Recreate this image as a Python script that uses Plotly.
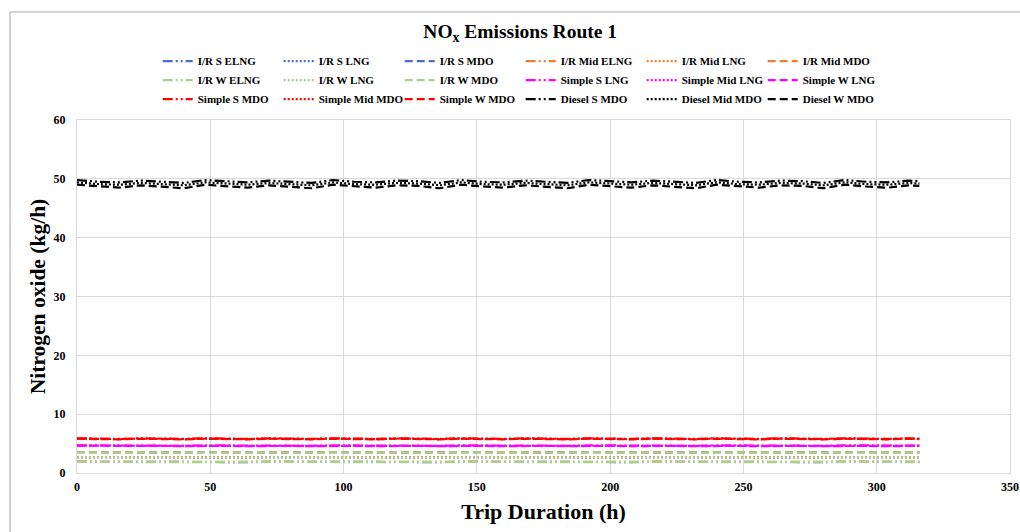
"""NOx emissions, Route 1: hourly nitrogen oxide for I/R, Simple and Diesel configurations."""
import plotly.graph_objects as go

# Trip duration (h)
HOURS = [0, 8, 16, 24, 32, 40, 48, 56, 64, 72, 80, 88, 96, 104, 112, 120, 128, 136, 144, 152,
         160, 168, 176, 184, 192, 200, 208, 216, 224, 232, 240, 248, 256, 264, 272, 280, 288,
         296, 304, 312, 316]

# Nitrogen oxide (kg/h)
IR_S_ELNG = [1.9, 1.88, 1.86, 1.9, 1.88, 1.86, 1.9, 1.88, 1.86, 1.9, 1.88, 1.86, 1.9, 1.88,
             1.86, 1.9, 1.88, 1.86, 1.9, 1.88, 1.86, 1.9, 1.88, 1.86, 1.9, 1.88, 1.86, 1.9,
             1.88, 1.86, 1.9, 1.88, 1.86, 1.9, 1.88, 1.86, 1.9, 1.88, 1.86, 1.9, 1.88]
IR_S_LNG = [2.7, 2.68, 2.66, 2.7, 2.68, 2.66, 2.7, 2.68, 2.66, 2.7, 2.68, 2.66, 2.7, 2.68,
            2.66, 2.7, 2.68, 2.66, 2.7, 2.68, 2.66, 2.7, 2.68, 2.66, 2.7, 2.68, 2.66, 2.7,
            2.68, 2.66, 2.7, 2.68, 2.66, 2.7, 2.68, 2.66, 2.7, 2.68, 2.66, 2.7, 2.68]
IR_S_MDO = [3.55, 3.52, 3.5, 3.55, 3.52, 3.5, 3.55, 3.52, 3.5, 3.55, 3.52, 3.5, 3.55, 3.52,
            3.5, 3.55, 3.52, 3.5, 3.55, 3.52, 3.5, 3.55, 3.52, 3.5, 3.55, 3.52, 3.5, 3.55,
            3.52, 3.5, 3.55, 3.52, 3.5, 3.55, 3.52, 3.5, 3.55, 3.52, 3.5, 3.55, 3.52]
IR_MID_ELNG = [1.92, 1.9, 1.88, 1.92, 1.9, 1.88, 1.92, 1.9, 1.88, 1.92, 1.9, 1.88, 1.92, 1.9,
               1.88, 1.92, 1.9, 1.88, 1.92, 1.9, 1.88, 1.92, 1.9, 1.88, 1.92, 1.9, 1.88, 1.92,
               1.9, 1.88, 1.92, 1.9, 1.88, 1.92, 1.9, 1.88, 1.92, 1.9, 1.88, 1.92, 1.9]
IR_MID_LNG = [2.68, 2.66, 2.64, 2.68, 2.66, 2.64, 2.68, 2.66, 2.64, 2.68, 2.66, 2.64, 2.68,
              2.66, 2.64, 2.68, 2.66, 2.64, 2.68, 2.66, 2.64, 2.68, 2.66, 2.64, 2.68, 2.66,
              2.64, 2.68, 2.66, 2.64, 2.68, 2.66, 2.64, 2.68, 2.66, 2.64, 2.68, 2.66, 2.64,
              2.68, 2.66]
IR_MID_MDO = [3.53, 3.5, 3.48, 3.53, 3.5, 3.48, 3.53, 3.5, 3.48, 3.53, 3.5, 3.48, 3.53, 3.5,
              3.48, 3.53, 3.5, 3.48, 3.53, 3.5, 3.48, 3.53, 3.5, 3.48, 3.53, 3.5, 3.48, 3.53,
              3.5, 3.48, 3.53, 3.5, 3.48, 3.53, 3.5, 3.48, 3.53, 3.5, 3.48, 3.53, 3.5]
IR_W_ELNG = [1.88, 1.86, 1.84, 1.88, 1.86, 1.84, 1.88, 1.86, 1.84, 1.88, 1.86, 1.84, 1.88,
             1.86, 1.84, 1.88, 1.86, 1.84, 1.88, 1.86, 1.84, 1.88, 1.86, 1.84, 1.88, 1.86,
             1.84, 1.88, 1.86, 1.84, 1.88, 1.86, 1.84, 1.88, 1.86, 1.84, 1.88, 1.86, 1.84,
             1.88, 1.86]
IR_W_LNG = [2.66, 2.64, 2.62, 2.66, 2.64, 2.62, 2.66, 2.64, 2.62, 2.66, 2.64, 2.62, 2.66,
            2.64, 2.62, 2.66, 2.64, 2.62, 2.66, 2.64, 2.62, 2.66, 2.64, 2.62, 2.66, 2.64,
            2.62, 2.66, 2.64, 2.62, 2.66, 2.64, 2.62, 2.66, 2.64, 2.62, 2.66, 2.64, 2.62,
            2.66, 2.64]
IR_W_MDO = [3.52, 3.5, 3.47, 3.52, 3.5, 3.47, 3.52, 3.5, 3.47, 3.52, 3.5, 3.47, 3.52, 3.5,
            3.47, 3.52, 3.5, 3.47, 3.52, 3.5, 3.47, 3.52, 3.5, 3.47, 3.52, 3.5, 3.47, 3.52,
            3.5, 3.47, 3.52, 3.5, 3.47, 3.52, 3.5, 3.47, 3.52, 3.5, 3.47, 3.52, 3.5]
SIMPLE_S_LNG = [4.7, 4.66, 4.62, 4.7, 4.66, 4.62, 4.7, 4.66, 4.62, 4.7, 4.66, 4.62, 4.7, 4.66,
                4.62, 4.7, 4.66, 4.62, 4.7, 4.66, 4.62, 4.7, 4.66, 4.62, 4.7, 4.66, 4.62, 4.7,
                4.66, 4.62, 4.7, 4.66, 4.62, 4.7, 4.66, 4.62, 4.7, 4.66, 4.62, 4.7, 4.66]
SIMPLE_MID_LNG = [4.66, 4.62, 4.6, 4.66, 4.62, 4.6, 4.66, 4.62, 4.6, 4.66, 4.62, 4.6, 4.66,
                  4.62, 4.6, 4.66, 4.62, 4.6, 4.66, 4.62, 4.6, 4.66, 4.62, 4.6, 4.66, 4.62,
                  4.6, 4.66, 4.62, 4.6, 4.66, 4.62, 4.6, 4.66, 4.62, 4.6, 4.66, 4.62, 4.6,
                  4.66, 4.62]
SIMPLE_W_LNG = [4.64, 4.6, 4.57, 4.64, 4.6, 4.57, 4.64, 4.6, 4.57, 4.64, 4.6, 4.57, 4.64, 4.6,
                4.57, 4.64, 4.6, 4.57, 4.64, 4.6, 4.57, 4.64, 4.6, 4.57, 4.64, 4.6, 4.57, 4.64,
                4.6, 4.57, 4.64, 4.6, 4.57, 4.64, 4.6, 4.57, 4.64, 4.6, 4.57, 4.64, 4.6]
SIMPLE_S_MDO = [5.9, 5.84, 5.8, 5.9, 5.84, 5.8, 5.9, 5.84, 5.8, 5.9, 5.84, 5.8, 5.9, 5.84,
                5.8, 5.9, 5.84, 5.8, 5.9, 5.84, 5.8, 5.9, 5.84, 5.8, 5.9, 5.84, 5.8, 5.9,
                5.84, 5.8, 5.9, 5.84, 5.8, 5.9, 5.84, 5.8, 5.9, 5.84, 5.8, 5.9, 5.84]
SIMPLE_MID_MDO = [5.86, 5.8, 5.76, 5.86, 5.8, 5.76, 5.86, 5.8, 5.76, 5.86, 5.8, 5.76, 5.86,
                  5.8, 5.76, 5.86, 5.8, 5.76, 5.86, 5.8, 5.76, 5.86, 5.8, 5.76, 5.86, 5.8,
                  5.76, 5.86, 5.8, 5.76, 5.86, 5.8, 5.76, 5.86, 5.8, 5.76, 5.86, 5.8, 5.76,
                  5.86, 5.8]
SIMPLE_W_MDO = [5.82, 5.77, 5.72, 5.82, 5.77, 5.72, 5.82, 5.77, 5.72, 5.82, 5.77, 5.72, 5.82,
                5.77, 5.72, 5.82, 5.77, 5.72, 5.82, 5.77, 5.72, 5.82, 5.77, 5.72, 5.82, 5.77,
                5.72, 5.82, 5.77, 5.72, 5.82, 5.77, 5.72, 5.82, 5.77, 5.72, 5.82, 5.77, 5.72,
                5.82, 5.77]
DIESEL_S_MDO = [49.8, 49.5, 49.4, 49.7, 49.5, 49.3, 49.8, 49.6, 49.4, 49.7, 49.5, 49.3, 49.8,
                49.5, 49.4, 49.7, 49.6, 49.3, 49.8, 49.5, 49.4, 49.7, 49.5, 49.3, 49.8, 49.6,
                49.4, 49.7, 49.5, 49.3, 49.8, 49.5, 49.4, 49.7, 49.6, 49.3, 49.8, 49.5, 49.4,
                49.7, 49.6]
DIESEL_MID_MDO = [49.4, 49.1, 49.0, 49.3, 49.1, 48.9, 49.4, 49.2, 49.0, 49.3, 49.1, 48.9,
                  49.4, 49.1, 49.0, 49.3, 49.2, 48.9, 49.4, 49.1, 49.0, 49.3, 49.1, 48.9,
                  49.4, 49.2, 49.0, 49.3, 49.1, 48.9, 49.4, 49.1, 49.0, 49.3, 49.2, 48.9,
                  49.4, 49.1, 49.0, 49.3, 49.2]
DIESEL_W_MDO = [49.0, 48.7, 48.5, 48.9, 48.7, 48.4, 49.0, 48.8, 48.5, 48.9, 48.7, 48.4, 49.0,
                48.7, 48.5, 48.9, 48.8, 48.4, 49.0, 48.7, 48.5, 48.9, 48.7, 48.4, 49.0, 48.8,
                48.5, 48.9, 48.7, 48.4, 49.0, 48.7, 48.5, 48.9, 48.8, 48.4, 49.0, 48.7, 48.5,
                48.9, 48.8]

BLUE = "#4472c4"
ORANGE = "#ed7d31"
GREEN = "#a9d18e"
MAGENTA = "#ff00ff"
RED = "#ff0000"
BLACK = "#000000"

DASH_DOT = "10px,3px,2px,3px,2px,3px"
DOT = "2px,2px"
DASH = "8px,4px"

FONT = "Liberation Serif"

# legend rows, as they appear in the reference (name, values, colour, dash)
ROWS = [
    [("I/R S ELNG", IR_S_ELNG, BLUE, DASH_DOT),
     ("I/R S LNG", IR_S_LNG, BLUE, DOT),
     ("I/R S MDO", IR_S_MDO, BLUE, DASH),
     ("I/R Mid ELNG", IR_MID_ELNG, ORANGE, DASH_DOT),
     ("I/R Mid LNG", IR_MID_LNG, ORANGE, DOT),
     ("I/R Mid MDO", IR_MID_MDO, ORANGE, DASH)],
    [("I/R W ELNG", IR_W_ELNG, GREEN, DASH_DOT),
     ("I/R W LNG", IR_W_LNG, GREEN, DOT),
     ("I/R W MDO", IR_W_MDO, GREEN, DASH),
     ("Simple S LNG", SIMPLE_S_LNG, MAGENTA, DASH_DOT),
     ("Simple Mid LNG", SIMPLE_MID_LNG, MAGENTA, DOT),
     ("Simple W LNG", SIMPLE_W_LNG, MAGENTA, DASH)],
    [("Simple S MDO", SIMPLE_S_MDO, RED, DASH_DOT),
     ("Simple Mid MDO", SIMPLE_MID_MDO, RED, DOT),
     ("Simple W MDO", SIMPLE_W_MDO, RED, DASH),
     ("Diesel S MDO", DIESEL_S_MDO, BLACK, DASH_DOT),
     ("Diesel Mid MDO", DIESEL_MID_MDO, BLACK, DOT),
     ("Diesel W MDO", DIESEL_W_MDO, BLACK, DASH)],
]
LEGEND_IDS = ["legend", "legend2", "legend3"]

fig = go.Figure()
for legend_id, row in zip(LEGEND_IDS, ROWS):
    for name, values, color, dash in row:
        fig.add_trace(go.Scatter(
            x=HOURS, y=values, name=name, mode="lines",
            line=dict(color=color, width=2.2, dash=dash),
            legend=legend_id,
        ))

legend_style = dict(
    orientation="h", x=0.0865, xanchor="left", yanchor="middle",
    entrywidth=76, bgcolor="rgba(0,0,0,0)", borderwidth=0,
    font=dict(family=FONT, size=11, color="black", weight="bold"),
)

fig.update_layout(
    width=1020,
    height=532,
    paper_bgcolor="white",
    plot_bgcolor="white",
    margin=dict(l=77, r=10, t=120, b=59, autoexpand=False),
    title=dict(
        text="NO<sub>x</sub> Emissions Route 1",
        x=0.51, xref="container", y=0.942, yref="container", yanchor="middle",
        font=dict(family=FONT, size=19.5, color="black", weight="bold"),
    ),
    legend=dict(legend_style, y=1.167),
    legend2=dict(legend_style, y=1.113),
    legend3=dict(legend_style, y=1.059),
    shapes=[dict(type="rect", xref="paper", yref="paper",
                 x0=-0.0718, x1=1.02, y0=-0.3, y1=1.306,
                 line=dict(color="#a6a6a6", width=1), layer="below")],
)

fig.update_xaxes(
    range=[0, 350], dtick=50, tick0=0, automargin=False,
    showgrid=True, gridcolor="#d9d9d9", gridwidth=1,
    showline=True, linecolor="#d9d9d9", linewidth=1, mirror=True,
    zeroline=False, ticks="", ticklabelstandoff=3,
    tickfont=dict(family=FONT, size=12, color="black", weight="bold"),
    title=dict(text="Trip Duration (h)", standoff=10,
               font=dict(family=FONT, size=22, color="black", weight="bold")),
)
fig.update_yaxes(
    range=[0, 60], dtick=10, tick0=0, automargin=False,
    showgrid=True, gridcolor="#d9d9d9", gridwidth=1,
    showline=True, linecolor="#d9d9d9", linewidth=1, mirror=True,
    zeroline=False, ticks="", ticklabelstandoff=8,
    tickfont=dict(family=FONT, size=12, color="black", weight="bold"),
    title=dict(text="Nitrogen oxide (kg/h)", standoff=2,
               font=dict(family=FONT, size=21.5, color="black", weight="bold")),
)

# drop the page's default body margin so the 1020x532 figure fills the window exactly
fig.write_html("out.html", config={"displayModeBar": False},
               post_script="document.body.style.margin = '0';")
